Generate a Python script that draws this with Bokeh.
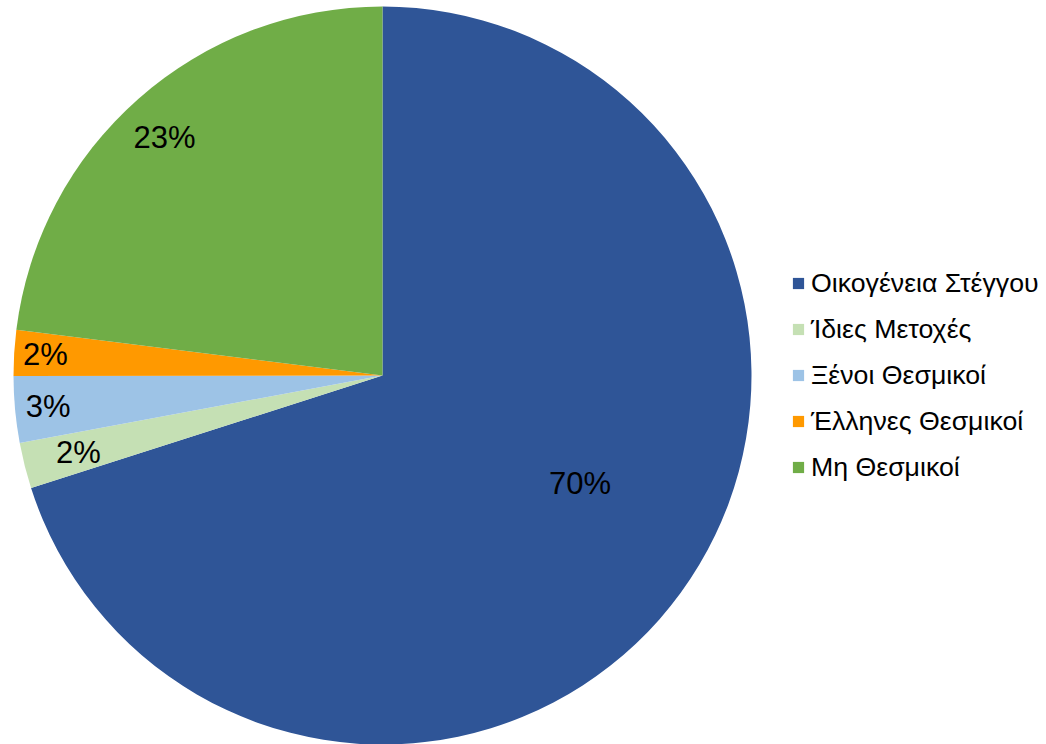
import math
from bokeh.plotting import figure
from bokeh.models import ColumnDataSource, Legend, LegendItem
from bokeh.core.properties import value
from bokeh.embed import file_html
from bokeh.resources import INLINE

categories = ["Οικογένεια Στέγγου", "Ίδιες Μετοχές", "Ξένοι Θεσμικοί", "Έλληνες Θεσμικοί", "Μη Θεσμικοί"]
shares = [70.0, 2.0, 2.9, 2.0, 23.0]
pct_labels = ["70%", "2%", "3%", "2%", "23%"]
colors = ["#2F5597", "#C5E0B4", "#9DC3E6", "#FF9900", "#70AD47"]

# label placement styling (fraction of radius, angular nudge in degrees)
label_rfrac = [0.61, 0.85, 0.91, 0.915, 0.875]
label_nudge = [-7.5, 0.0, 0.0, 0.0, -1.0]

W, H = 1046, 744
cx, cy, R = 382, H - 375, 369

p = figure(width=W, height=H, x_range=(0, W), y_range=(0, H),
           output_backend="svg", toolbar_location=None, min_border=0)
p.axis.visible = False
p.grid.visible = False
p.outline_line_color = None
p.background_fill_color = "white"

total = sum(shares)
starts, ends, lx, ly = [], [], [], []
acc = 0.0
for s, rf, nd in zip(shares, label_rfrac, label_nudge):
    t0 = acc / total * 360.0
    acc += s
    t1 = acc / total * 360.0
    starts.append(math.radians(90 - t0))
    ends.append(math.radians(90 - t1))
    mid = (t0 + t1) / 2 + nd
    lx.append(cx + R * rf * math.sin(math.radians(mid)))
    ly.append(cy + R * rf * math.cos(math.radians(mid)))

src = ColumnDataSource(dict(lx=lx, ly=ly, lab=pct_labels))

renderers = []
for i in range(len(categories)):
    r = p.wedge(x=cx, y=cy, radius=R, start_angle=starts[i], end_angle=ends[i],
                direction="clock", fill_color=colors[i], line_color=None)
    renderers.append(r)

p.text(x="lx", y="ly", text="lab", source=src, text_align="center",
       text_baseline="middle", text_font=value("Liberation Sans"),
       text_font_size="31px", text_color="black")

legend = Legend(items=[LegendItem(label=c, renderers=[r]) for c, r in zip(categories, renderers)],
                location=(791, 261), orientation="vertical",
                glyph_width=14, glyph_height=14, label_standoff=6,
                label_height=32, spacing=14, padding=0, margin=0,
                label_text_font="Liberation Sans", label_text_font_size="26.7px",
                label_text_color="black",
                border_line_color=None, background_fill_alpha=0)
p.add_layout(legend)

open("out.html", "w").write(file_html(p, INLINE))
